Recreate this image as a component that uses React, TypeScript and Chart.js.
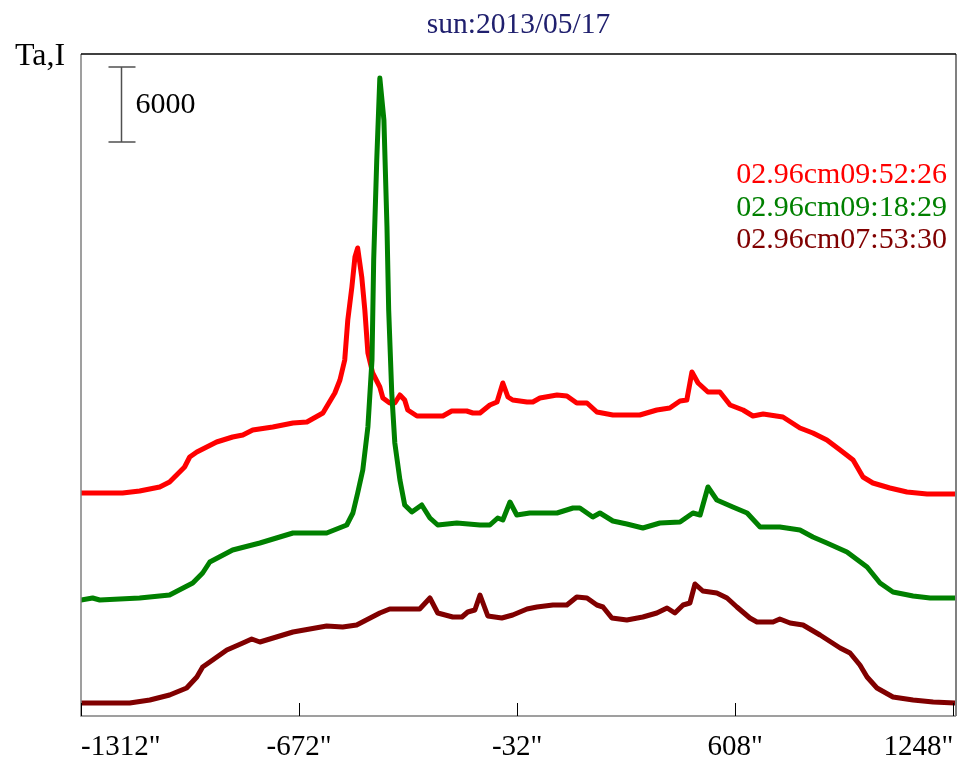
import { useEffect, useRef } from "react";
import { Chart, registerables } from "chart.js";

Chart.register(...registerables);

// ---- chart text ----
const TITLE = "sun:2013/05/17";
const Y_LABEL = "Ta,I";
const SCALE_BAR_TEXT = "6000";

// ---- axes ----
const X_TICKS = [-1312, -672, -32, 608, 1248];
const X_MIN = -1312;
const X_MAX = 1256;
const Y_MIN = 0;
const Y_MAX = 52960;
const SCALE_BAR_SIZE = 6000;
const SCALE_BAR_BASE = 45920;

// ---- series (scan position in arcsec, antenna temperature incl. display offset) ----
const SERIES_LABELS = ["02.96cm09:52:26", "02.96cm09:18:29", "02.96cm07:53:30"];
const SERIES_COLORS = ["#ff0000", "#008000", "#800000"];

const POS_0952 = [
  -1312, -1190, -1140, -1081, -1052, -1008, -993, -972, -914, -867, -837, -808, -749, -690, -649,
  -602, -567, -552, -538, -529, -517, -508, -500, -488, -479, -470, -456, -435, -426, -406, -391,
  -376, -362, -353, -326, -250, -224, -180, -162, -141, -112, -91, -74, -59, -45, -3, 14, 35, 85,
  114, 143, 173, 202, 249, 328, 378, 416, 446, 466, 481, 499, 528, 563, 593, 631, 660, 690, 748,
  798, 836, 877, 916, 954, 983, 1012, 1062, 1112, 1171, 1253,
];
const TA_0952 = [
  17840, 17840, 18000, 18320, 18720, 19920, 20720, 21120, 21920, 22320, 22480, 22880, 23120, 23440,
  23520, 24240, 25840, 26880, 28480, 31680, 34320, 36720, 37440, 35120, 32480, 29040, 27440, 26320,
  25440, 25040, 25040, 25680, 25280, 24480, 24000, 24000, 24400, 24400, 24240, 24240, 24880, 25120,
  26640, 25520, 25280, 25120, 25120, 25440, 25680, 25600, 25040, 25040, 24320, 24080, 24080, 24480,
  24640, 25200, 25280, 27520, 26640, 25920, 25920, 24880, 24480, 24000, 24160, 23920, 23040, 22640,
  22080, 21280, 20480, 19120, 18640, 18240, 17920, 17760, 17760,
];

const POS_0918 = [
  -1312, -1278, -1257, -1140, -1052, -984, -955, -934, -867, -787, -690, -591, -532, -514, -500,
  -485, -470, -458, -453, -444, -435, -423, -414, -409, -400, -391, -376, -362, -341, -312, -288,
  -265, -209, -141, -112, -89, -74, -53, -33, 5, 85, 132, 152, 190, 211, 249, 290, 337, 387, 446,
  484, 505, 528, 554, 601, 643, 681, 739, 798, 836, 877, 936, 995, 1033, 1071, 1130, 1180, 1253,
];
const TA_0918 = [
  9280, 9440, 9280, 9440, 9680, 10640, 11440, 12320, 13280, 13840, 14640, 14640, 15280, 16240,
  17840, 19680, 23120, 28480, 36480, 44480, 51040, 47680, 39120, 32480, 25840, 21840, 18880, 16880,
  16320, 16880, 15840, 15280, 15440, 15280, 15280, 15840, 15680, 17120, 16080, 16240, 16240, 16640,
  16640, 15920, 16240, 15600, 15360, 15040, 15440, 15520, 16240, 16080, 18320, 17280, 16720, 16240,
  15120, 15120, 14880, 14320, 13840, 13120, 11920, 10640, 9920, 9600, 9440, 9440,
];

const POS_0753 = [
  -1312, -1169, -1110, -1052, -1002, -972, -955, -934, -884, -837, -811, -787, -690, -591, -544,
  -503, -435, -406, -318, -288, -265, -221, -194, -177, -156, -141, -118, -77, -45, -3, 26, 73, 114,
  143, 173, 202, 220, 246, 290, 337, 378, 408, 431, 455, 475, 490, 513, 554, 584, 613, 651, 672,
  719, 739, 769, 807, 857, 916, 945, 974, 995, 1024, 1071, 1130, 1189, 1253,
];
const TA_0753 = [
  1040, 1040, 1280, 1680, 2240, 3120, 3920, 4320, 5280, 5840, 6160, 5920, 6720, 7200, 7120, 7280,
  8240, 8560, 8560, 9440, 8240, 7920, 7920, 8320, 8480, 9680, 8000, 7840, 8080, 8560, 8720, 8880,
  8880, 9520, 9440, 8880, 8720, 7840, 7680, 7920, 8240, 8640, 8240, 8880, 9040, 10560, 10000, 9840,
  9440, 8720, 7840, 7520, 7520, 7760, 7440, 7280, 6480, 5440, 5040, 4080, 3120, 2240, 1520, 1280,
  1120, 1040,
];

const SERIF = '"Liberation Serif", "Times New Roman", serif';

const toPoints = (xs: number[], ys: number[]) => xs.map((x, i) => ({ x, y: ys[i] }));

// Frame, inward tick marks, title, y label, scale bar and the colored legend text
const decorations = {
  id: "decorations",
  afterDraw(chart: any) {
    const { ctx, chartArea: a, scales } = chart;
    const xs = scales.x;
    const ys = scales.y;
    ctx.save();

    // frame
    ctx.lineWidth = 1.5;
    ctx.strokeStyle = "#808080";
    ctx.beginPath();
    ctx.moveTo(a.left, a.top);
    ctx.lineTo(a.left, a.bottom);
    ctx.lineTo(a.right, a.bottom);
    ctx.stroke();
    ctx.lineWidth = 2;
    ctx.beginPath();
    ctx.moveTo(a.right, a.top);
    ctx.lineTo(a.right, a.bottom);
    ctx.stroke();
    ctx.strokeStyle = "#000";
    ctx.lineWidth = 1.5;
    ctx.beginPath();
    ctx.moveTo(a.left, a.top);
    ctx.lineTo(a.right, a.top);
    ctx.stroke();

    // tick marks pointing into the plot
    ctx.lineWidth = 1;
    ctx.strokeStyle = "#000";
    X_TICKS.forEach((v) => {
      const px = Math.round(xs.getPixelForValue(v)) + 0.5;
      ctx.beginPath();
      ctx.moveTo(px, a.bottom);
      ctx.lineTo(px, a.bottom - 13);
      ctx.stroke();
    });

    // title
    ctx.textBaseline = "alphabetic";
    ctx.fillStyle = "#20206e";
    ctx.font = `29.5px ${SERIF}`;
    ctx.textAlign = "center";
    ctx.fillText(TITLE, (a.left + a.right) / 2, 33);

    // y label
    ctx.fillStyle = "#000";
    ctx.font = `32px ${SERIF}`;
    ctx.textAlign = "left";
    ctx.fillText(Y_LABEL, 15, 65);

    // scale bar
    const barX = a.left + 40.5;
    const yTop = ys.getPixelForValue(SCALE_BAR_BASE + SCALE_BAR_SIZE);
    const yBot = ys.getPixelForValue(SCALE_BAR_BASE);
    ctx.strokeStyle = "#505050";
    ctx.lineWidth = 1.5;
    ctx.beginPath();
    ctx.moveTo(barX, yTop);
    ctx.lineTo(barX, yBot);
    ctx.moveTo(barX - 13, yTop);
    ctx.lineTo(barX + 14, yTop);
    ctx.moveTo(barX - 13, yBot);
    ctx.lineTo(barX + 14, yBot);
    ctx.stroke();
    ctx.fillStyle = "#000";
    ctx.font = `30px ${SERIF}`;
    ctx.textAlign = "left";
    ctx.textBaseline = "middle";
    ctx.fillText(SCALE_BAR_TEXT, barX + 14, (yTop + yBot) / 2 + 1);

    // series labels
    ctx.textAlign = "right";
    ctx.textBaseline = "alphabetic";
    ctx.font = `30px ${SERIF}`;
    SERIES_LABELS.forEach((t, i) => {
      ctx.fillStyle = SERIES_COLORS[i];
      ctx.fillText(t, a.right - 9, 183 + i * 32.5);
    });

    ctx.restore();
  },
};

export default function App() {
  const canvasRef = useRef<HTMLCanvasElement | null>(null);

  useEffect(() => {
    const canvas = canvasRef.current;
    if (!canvas) return;
    const chart = new Chart(canvas, {
      type: "line",
      data: {
        datasets: [
          { label: SERIES_LABELS[0], data: toPoints(POS_0952, TA_0952), borderColor: SERIES_COLORS[0], order: 1 },
          { label: SERIES_LABELS[1], data: toPoints(POS_0918, TA_0918), borderColor: SERIES_COLORS[1], order: 0 },
          { label: SERIES_LABELS[2], data: toPoints(POS_0753, TA_0753), borderColor: SERIES_COLORS[2], order: 2 },
        ],
      },
      options: {
        responsive: false,
        maintainAspectRatio: false,
        animation: false,
        layout: { padding: { left: 81, top: 54, right: 4, bottom: 0 } },
        elements: {
          point: { radius: 0 },
          line: { tension: 0, borderWidth: 5, borderJoinStyle: "round", borderCapStyle: "round", fill: false },
        },
        plugins: {
          legend: { display: false },
          tooltip: { enabled: false },
          title: { display: false },
        },
        scales: {
          x: {
            type: "linear",
            min: X_MIN,
            max: X_MAX,
            afterBuildTicks: (s: any) => {
              s.ticks = X_TICKS.map((value) => ({ value }));
            },
            afterFit: (s: any) => {
              s.height = 49;
              s.paddingLeft = 0;
              s.paddingRight = 0;
            },
            ticks: {
              autoSkip: false,
              maxRotation: 0,
              minRotation: 0,
              align: "inner",
              padding: 14,
              color: "#000",
              font: { family: SERIF, size: 29 },
              callback: (v: any) => `${v}"`,
            },
            grid: { display: false, drawTicks: false },
            border: { display: false },
          },
          y: { type: "linear", display: false, min: Y_MIN, max: Y_MAX },
        },
      },
      plugins: [decorations],
    } as any);
    return () => chart.destroy();
  }, []);

  return (
    <div style={{ position: "absolute", left: 0, top: 0, width: 960, height: 765, background: "#fff" }}>
      <canvas ref={canvasRef} width={960} height={765} style={{ display: "block" }} />
    </div>
  );
}
